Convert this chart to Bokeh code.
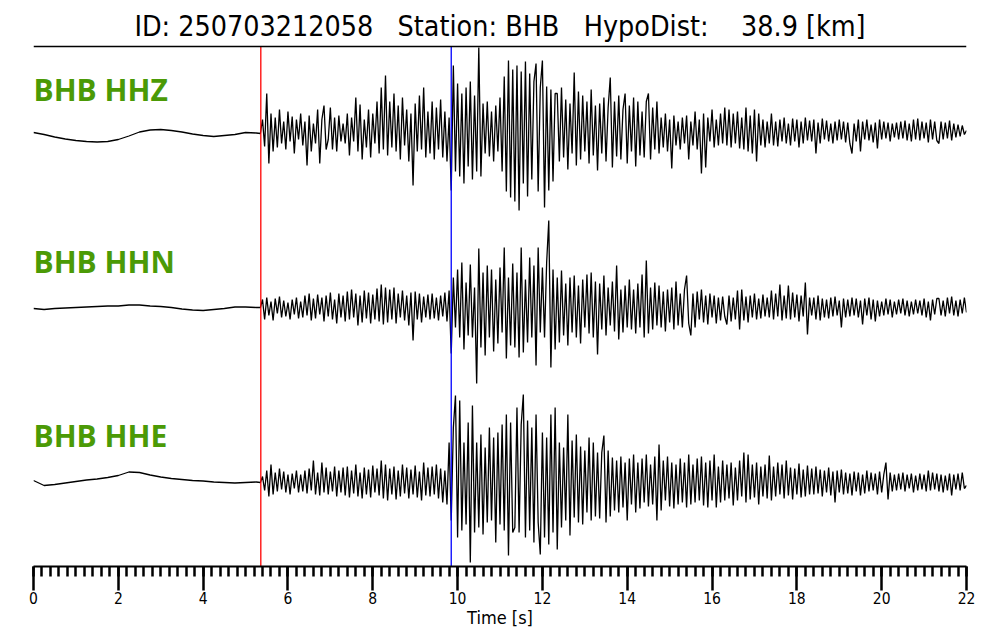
import numpy as np
from bokeh.plotting import figure
from bokeh.models import Range1d, SingleIntervalTicker
from bokeh.core.properties import value
from bokeh.embed import file_html
from bokeh.resources import INLINE

# ---------------- data (amplitudes, arbitrary units) ----------------
title_text = "ID: 250703212058   Station: BHB   HypoDist:    38.9 [km]"
channels = ["BHB HHZ", "BHB HHN", "BHB HHE"]
x_ticks_interval = 2
p_pick = 5.36
s_pick = 9.85

pre_dt = 0.25
post_t0 = 5.35
post_dt = 0.05

hhz_pre = [-1, -3, -5.5, -7.5, -9, -10, -10.5, -10, -8, -4.5, -0.5, 1.5, 2, 1, -0.5, -2.5,
           -4, -5, -4, -3, -1, -1.5]
hhz_post = [
    -2, 12, -15, 38, -32, 18, -20, 14, -16, 22, -12, 10, -18, 20, -10, 15, -22, 12, -8, 18,
    -14, 10, -34, 16, -20, 8, -12, 22, -32, 12, 26, -18, -8, 24, -18, 14, -20, 16, -10, 8,
    -12, 18, -24, 14, -10, 34, -20, 27, -28, 12, -16, 22, -26, 18, -12, 30, -22, 44, -18, 56,
    -24, 30, -16, 38, -20, 26, -28, 34, -14, 22, -30, 18, -54, 28, -20, 36, -18, 44, -26, 20,
    -22, 30, -28, 24, -18, 32, -26, 20, -30, 14, -59, 66, -40, 48, -45, 38, -52, 44, -35, 50,
    -48, 36, -40, 84, -45, 28, -22, 30, -25, 20, -30, 26, -20, 34, -40, 55, -60, 71, -66, 62,
    -70, 66, -79, 60, -52, 70, -65, 58, -48, 50, 68, -60, 44, 71, -76, 45, -59, 42, -50, 38,
    38, -30, 44, -26, 32, -38, 28, -22, 59, -34, 40, -28, 36, -20, 30, -32, 42, -24, 26, -39,
    28, -22, 34, -30, 24, 54, -36, 30, -25, 36, -28, 22, 38, -32, 26, -20, 34, -35, 30, -24,
    20, -26, 30, 38, -28, 24, -18, 30, -22, 14, -16, 18, -20, 12, -37, 16, -14, 10, -18, 14,
    -12, 16, -28, 10, -14, 20, -18, 12, -42, 18, -36, 14, -10, 22, -16, 12, -14, 18, -12, 24,
    -14, 22, -16, 18, -12, 20, -17, 14, -18, 24, -20, 16, -22, 22, -30, 18, -14, 12, -16, 10,
    -12, 18, -14, 10, -15, 12, -10, 14, -12, 8, -14, 13, -10, 12, -16, 10, -12, 14, -9, 11,
    -10, 12, -22, 9, -12, 13, -8, 11, -10, 8, -12, 10, -9, 12, -8, 10, -11, 9, -12, -22,
    8, -10, 12, -20, 10, -8, 12, -9, 7, -11, 9, -17, 12, -8, 10, -7, 9, -10, 8, -6,
    9, -8, 10, -7, 11, -9, 8, -10, 12, -8, 13, -9, 10, -7, 9, -11, 12, -8, 10, -9,
    -12, 10, -8, 9, -7, 11, -9, 8, -6, 7, -5, 6, -3, 1,
]

hhn_pre = [-1, -2, -1, -0.5, 0, 0.5, 1, 1.5, 1.5, 2.5, 2.5, 1.5, 1, 0, -1.5, -2.5,
           -3, -2, -1, 0.5, 0.5, 0]
hhn_post = [
    0, 8, -12, 10, -8, 6, -13, 9, -6, 11, -10, 7, -9, 5, -12, 8, -7, 10, -11, 6,
    -10, 12, -8, 14, -13, 9, -11, 13, -7, 10, -14, 12, -9, 15, -12, 8, -16, 14, -10, 12,
    -14, 16, -12, 18, -10, 14, -18, 12, -15, 17, -11, 15, -16, 13, -12, 19, -14, 23, -17, 20,
    -15, 18, -12, 20, -16, 14, -10, 17, -13, 12, -18, 15, -33, 16, -12, 14, -15, 11, -10, 13,
    -12, 14, -11, 10, -13, 12, -9, 15, -14, 17, -46, 30, -20, 38, -30, 45, -42, 25, -28, 43,
    -30, 20, -76, 59, -40, 35, -48, 42, -30, 38, -44, 28, -36, 40, -25, 60, -51, 30, -38, 44,
    -40, 35, -50, 60, -45, 28, -35, 50, -30, 42, -58, 60, -25, 40, -30, 45, 87, -60, 38, -42,
    30, -35, 37, -28, 24, -38, 30, -25, 32, -30, 22, -36, 28, -20, 33, -26, 35, -30, 26, -47,
    24, -22, 32, -28, 20, -18, 26, -24, 42, -32, 18, -25, 22, -20, 28, -22, 18, -26, 24, -20,
    33, -30, 47, -26, 20, -22, 25, -18, 22, -20, 16, -24, 18, -15, 20, -22, 26, -18, 14, -20,
    18, 32, -16, -28, 14, -20, 16, -12, 18, -15, 12, -17, 14, -10, 12, -16, 10, -13, 11, -9,
    -17, 12, -14, 10, -12, 17, -22, 18, -13, 11, -15, 12, -10, 14, -12, 9, -11, 13, -9, 10,
    -10, 17, -12, 14, -9, 23, -13, 12, -11, 22, -12, 15, -10, 13, -14, 12, -9, 25, -27, 10,
    -8, 10, -12, 12, -13, 9, -10, 8, -11, 10, -9, 11, -8, 7, -20, 9, -10, 8, -9, 10,
    -8, 9, -10, 7, -17, 9, -8, 10, -12, 8, -14, 7, -9, 6, -8, 9, -7, 8, -10, 6,
    -7, 8, -6, 9, -8, 7, -9, 6, -7, 8, -6, 7, -8, 9, -10, 6, -13, 8, -7, 9,
    9, -8, 7, -9, 10, -6, 11, -8, 7, -9, 8, -6, 10, -5,
]

hhe_pre = [2, -3, -2, -0.5, 1, 2.5, 3.5, 5, 7, 10.5, 10, 7.5, 5.5, 4, 3, 2,
           1.5, 0.5, 0, -0.5, 0, 0.5]
hhe_post = [
    0, 6, -8, 12, -14, 18, -12, 10, -9, 14, -7, 11, -10, 8, -12, 9, -6, 12, -10, 8,
    -9, 12, -11, 14, -8, 22, -12, 10, -13, 20, -10, 15, -12, 11, -9, 16, -14, 12, -10, 15,
    -13, 16, -15, 12, -11, 18, -14, 10, -16, 15, -12, 13, -15, 17, -10, 14, -13, 22, -16, 18,
    -18, 14, -12, 16, -17, 12, -14, 18, -11, 15, -16, 13, -12, 17, -15, 11, -18, 20, -13, 15,
    -14, 16, -12, 18, -16, 14, -20, 12, -22, 40, -38, 55, 87, -55, 82, -48, 40, -42, 60, -80,
    77, -50, 40, -45, 48, -52, 35, -40, 55, -38, 45, -60, 50, -42, 58, -48, 68, -73, 60, -50,
    -45, 75, -50, 58, 88, -55, 62, -48, 55, -60, 68, -40, -72, 50, -55, 45, -62, 68, -50, 75,
    -67, 40, -45, 35, -38, 68, -53, 42, -35, 48, -40, 36, -42, 32, -30, 45, -38, 40, -34, 30,
    -36, 30, 47, -40, 32, -34, 25, -28, 22, -30, 26, -25, 20, -38, 24, -22, 28, -30, 20, -26,
    24, -20, 28, -24, 18, -22, 26, -38, 38, -28, 22, -18, 26, -24, 20, -26, 18, -22, 24, -20,
    20, -25, 28, -22, 18, -20, 24, -18, 26, -23, 20, -25, 22, -18, 28, -25, 16, -20, 22, -18,
    18, -16, 20, -23, 15, -18, 22, -14, 30, -20, 28, -17, 18, -15, 20, -22, 16, -14, 18, -16,
    27, -18, 16, -14, 20, -12, 18, -16, 22, -13, 15, -17, 14, -12, 19, -15, 13, -14, 17, -12,
    14, -12, 16, -11, 13, -14, 12, -10, 15, -13, 11, -20, 12, -10, 13, -12, 10, -11, 9, -13,
    11, -9, 10, -13, 8, -11, 12, -9, 10, -8, 9, -12, 11, -10, 8, 20, -17, 10, -9, 8,
    -8, 9, -7, 10, -9, 8, -6, 9, -10, 7, -8, 9, -7, 8, -9, 12, -8, 10, -7, 9,
    -9, 8, -10, 7, -8, 9, -13, 8, -7, 9, -8, 10, -6, -3,
]

pre_series = [hhz_pre, hhn_pre, hhe_pre]
post_series = [hhz_post, hhn_post, hhe_post]

# ---------------- layout constants (1 unit = 1 px, 0 = top of picture) ----------------
W, H = 1000, 640
frame_h = 566
trace_offsets = [-131, -307, -482]
label_y = [-88.7, -261, -435.3]
title_line_y = -46
title_y = -25.5
green = "#4b9a06"
cond = "DejaVu Sans Condensed"

p = figure(width=W, height=H, output_backend="svg", toolbar_location=None,
           x_range=Range1d(0, 22), y_range=Range1d(-frame_h, 0),
           min_border_left=33, min_border_right=34, min_border_top=0,
           min_border_bottom=H - frame_h, y_axis_location=None)
p.outline_line_color = None
p.xgrid.visible = False
p.ygrid.visible = False
p.background_fill_color = "white"
p.border_fill_color = "white"

# waveforms
for pre, post, off in zip(pre_series, post_series, trace_offsets):
    t = np.concatenate([np.arange(len(pre)) * pre_dt,
                        post_t0 + np.arange(len(post)) * post_dt])
    a = np.concatenate([np.asarray(pre, float), np.asarray(post, float)])
    p.line(t, a + off, line_color="black", line_width=1.3)

# picks
p.segment(x0=[p_pick], x1=[p_pick], y0=[title_line_y], y1=[-frame_h],
          line_color="red", line_width=1.3)
p.segment(x0=[s_pick], x1=[s_pick], y0=[title_line_y], y1=[-frame_h],
          line_color="blue", line_width=1.3)

# title and rule (extra spaces kept as no-break spaces so SVG does not collapse them)
shown_title = title_text.replace("  ", "\u00a0\u00a0")
p.segment(x0=[0], x1=[22], y0=[title_line_y], y1=[title_line_y],
          line_color="black", line_width=1.4)
p.text(x=[11], y=[title_y], text=[shown_title], text_align="center",
       text_baseline="alphabetic", text_font=value(cond),
       text_font_size="28.4px", text_color="black")

# channel labels
p.text(x=[0] * 3, y=label_y, text=channels, text_align="left",
       text_baseline="alphabetic", text_font=value("Open Sans"),
       text_font_style="bold", text_font_size="30px", text_color=green)

# x axis
ax = p.xaxis[0]
ax.ticker = SingleIntervalTicker(interval=x_ticks_interval, num_minor_ticks=10)
ax.axis_label = "Time [s]"
ax.axis_label_text_font = cond
ax.axis_label_text_font_size = "18px"
ax.axis_label_text_font_style = "normal"
ax.axis_label_text_color = "black"
ax.axis_label_standoff = 0
ax.major_label_text_font = cond
ax.major_label_text_font_size = "15.5px"
ax.major_label_text_color = "black"
ax.major_label_standoff = 1
ax.axis_line_color = "black"
ax.axis_line_width = 2
ax.major_tick_line_color = "black"
ax.major_tick_line_width = 2.5
ax.major_tick_in = 0
ax.major_tick_out = 24
ax.minor_tick_line_color = "black"
ax.minor_tick_line_width = 2.5
ax.minor_tick_in = 0
ax.minor_tick_out = 10

open("out.html", "w").write(file_html(p, INLINE))
